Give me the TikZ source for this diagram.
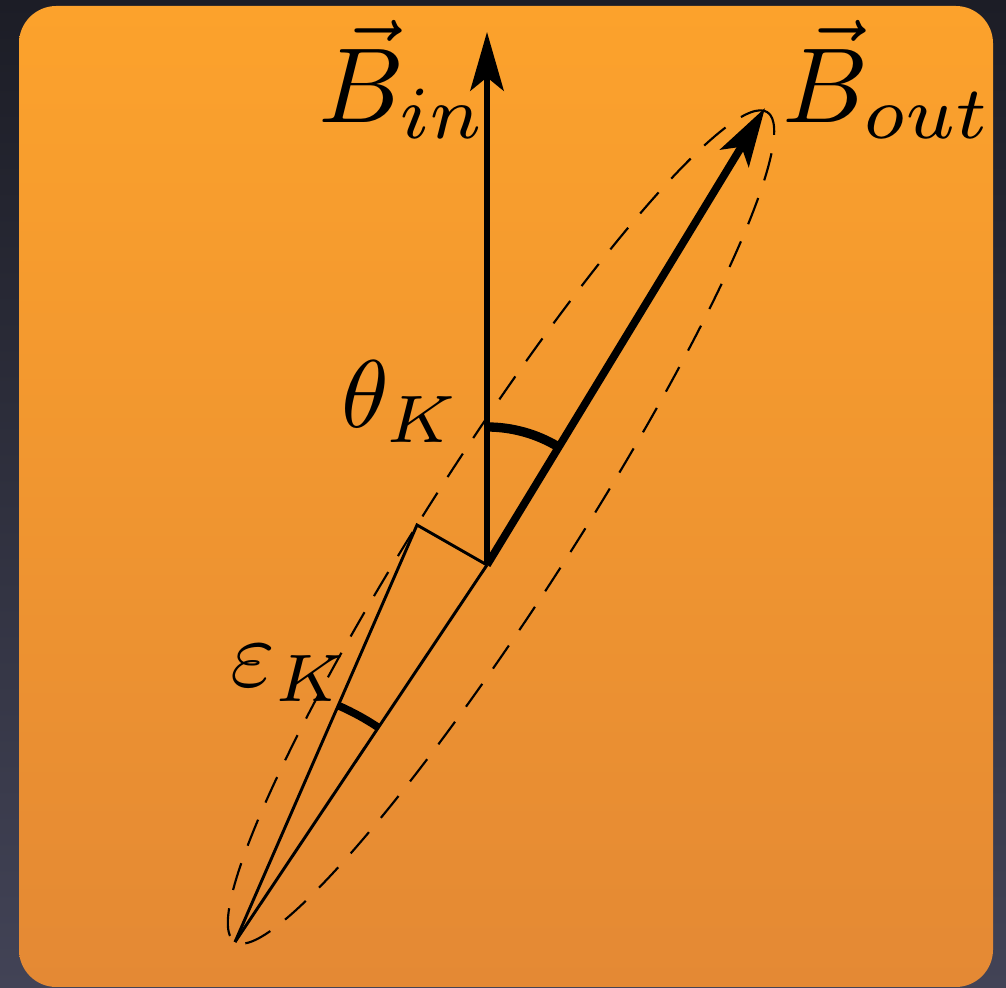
\documentclass[tikz,border=0pt]{standalone}
\usetikzlibrary{arrows.meta}
\definecolor{bgtop}{HTML}{1C1D26}
\definecolor{bgbot}{HTML}{424356}
\definecolor{cardtop}{RGB}{252,162,44}
\definecolor{cardbot}{RGB}{228,137,52}
\begin{document}
\begin{tikzpicture}[x=0.75pt,y=0.75pt,
  lbl/.style={inner sep=0pt, anchor=base west, scale=7.2},
  biglbl/.style={inner sep=0pt, anchor=base west, scale=8.0},
  vecarrow/.style={-{Stealth[length=44pt,width=25pt,inset=10pt]}},
  thinl/.style={line width=2.2pt},
  ellstyle/.style={line width=1.6pt, dash pattern=on 21pt off 14pt},
  anglearc/.style={line width=7pt}]
\shade[bottom color=bgbot, top color=bgtop] (0,0) rectangle (1006,988);
\useasboundingbox (0,0) rectangle (1006,988);
\shade[top color=cardtop, bottom color=cardbot, rounded corners=28pt] (19,1) rectangle (993,982);
% points
\coordinate (O) at (487,423);
\coordinate (Bin) at (487,956);
\coordinate (Bout) at (765,880);
\coordinate (T) at (235,46);
\coordinate (F) at (417,463);
\coordinate (C) at (501,461);
% ellipse
\draw[ellstyle, rotate around={57.3:(C)}] (C) ellipse [x radius=493, y radius=72];
% thin lines
\draw[thinl] (T) -- (O);
\draw[thinl] (T) -- (F) -- (O);
% vectors
\draw[line width=4.6pt, vecarrow] (O) -- (Bin);
\draw[line width=5.8pt, vecarrow] (O) -- (Bout);
% angle arcs
\draw[anglearc] ([shift={(90:138)}]O) arc[start angle=90, end angle=58.9, radius=138];
\draw[anglearc, line width=5.8pt] ([shift={(66.5:258)}]T) arc[start angle=66.5, end angle=56.2, radius=258];
% labels
\node[biglbl] (lBin) at (316,865) {$\vec{B}_{in}$};
\node[biglbl] (lBout) at (780,865) {$\vec{B}_{out}$};
\node[lbl] (lth) at (340,560) {$\theta_K$};
\node[lbl] (leps) at (229,301) {$\varepsilon_K$};
\end{tikzpicture}
\end{document}
